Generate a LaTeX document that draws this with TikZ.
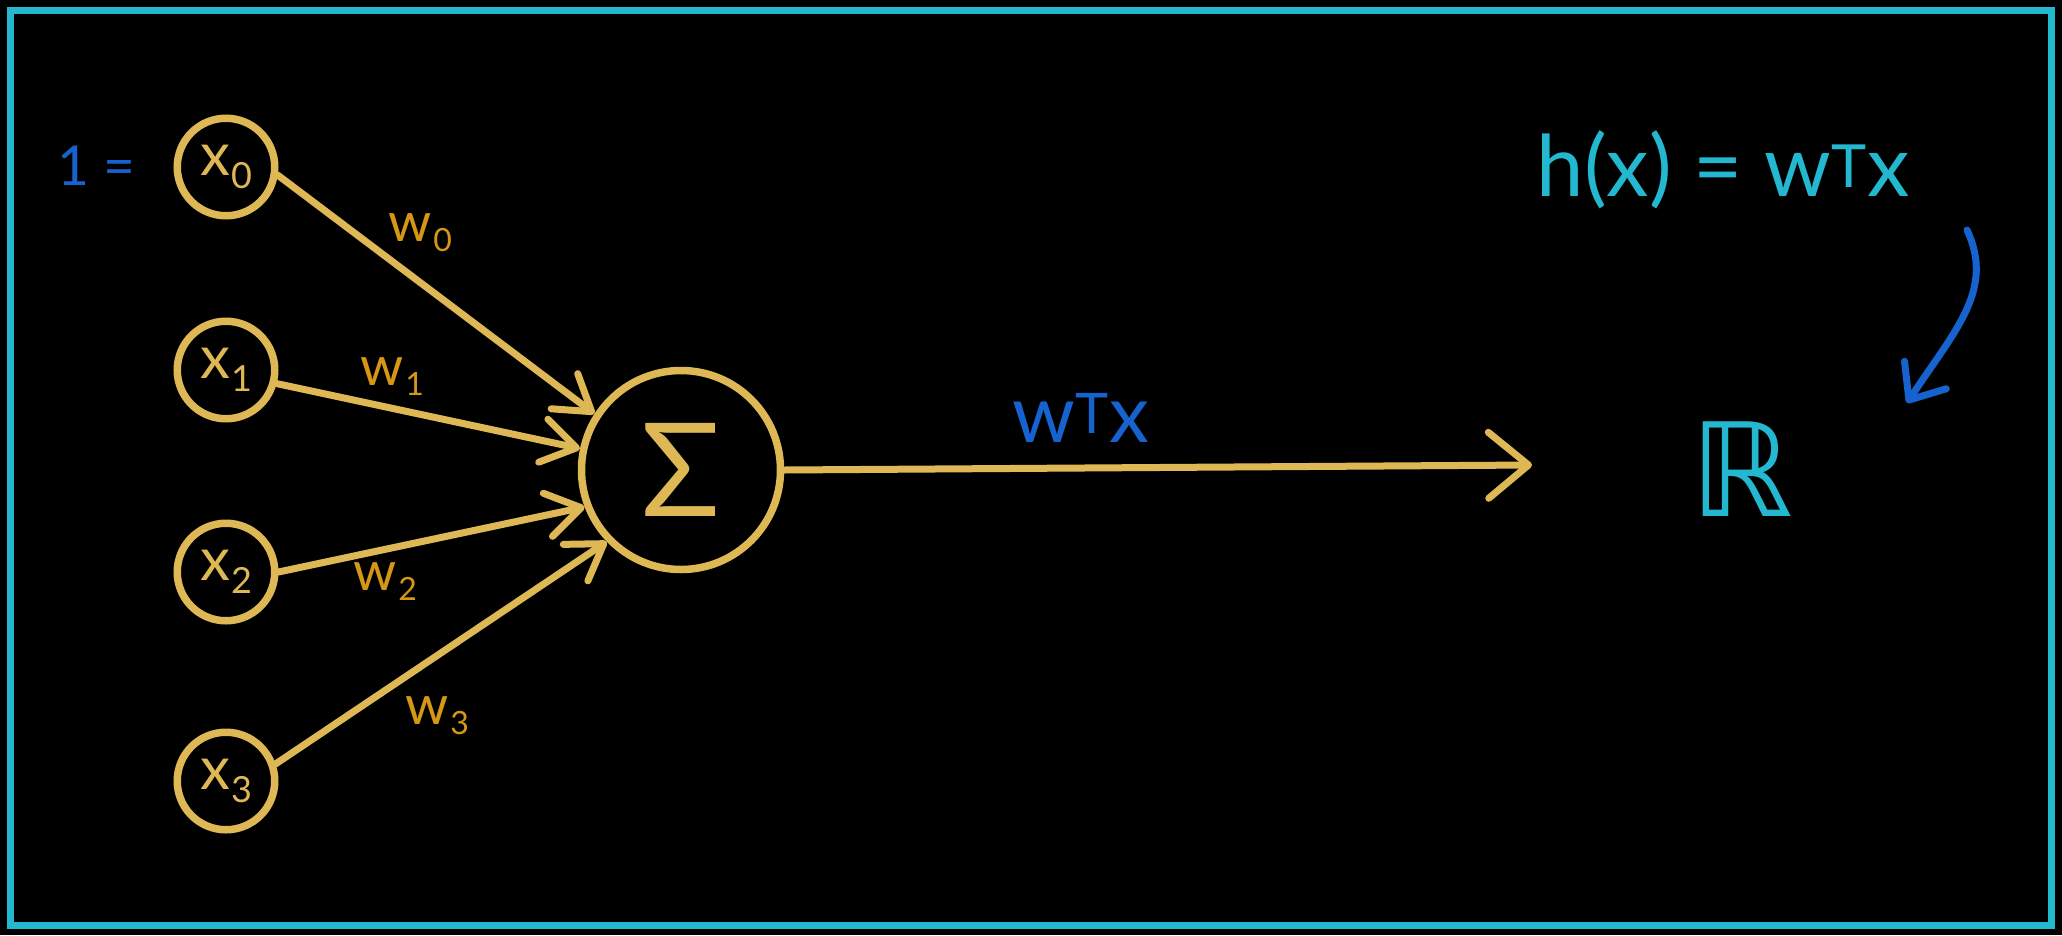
\documentclass[tikz,border=0pt]{standalone}
\usepackage{fontspec}
\setmainfont{Lato}
\newfontfamily\dejavu{DejaVu Sans}
\usetikzlibrary{arrows.meta}
\definecolor{gold}{RGB}{222,184,84}
\definecolor{wlab}{RGB}{214,152,20}
\definecolor{bluec}{RGB}{22,98,206}
\definecolor{cyanc}{RGB}{36,184,208}
\newcommand\xsub[1]{x\kern1pt\raisebox{-13pt}{\fontsize{36}{36}\selectfont #1}}
\newcommand\wsub[1]{w\kern2pt\raisebox{-10pt}{\fontsize{32}{32}\selectfont #1}}
\tikzset{
 neuron/.style={circle, draw=gold, line width=7.5pt, minimum size=97.5pt, inner sep=0pt, text=gold, font=\fontsize{60}{60}\selectfont},
 sumnode/.style={circle, draw=gold, line width=7.5pt, minimum size=199pt, inner sep=0pt, text=gold, font=\fontsize{130}{130}\selectfont},
 conn/.style={draw=gold, line width=7pt, line cap=round, line join=round, -{Straight Barb[length=34pt,width=44pt,line cap=round,line join=round]}},
 wlabel/.style={text=wlab, font=\fontsize{55}{55}\selectfont, inner sep=0pt},
 bluetext/.style={text=bluec, inner sep=0pt},
 cyantext/.style={text=cyanc, inner sep=0pt},
}
\begin{document}
\begin{tikzpicture}[x=1pt,y=-1pt]
\fill[black] (0,0) rectangle (2062,935);
\draw[cyanc, line width=7pt] (10,10) rectangle (2051,925);

\node[neuron] (x0) at (226,167) {\xsub{0}};
\node[neuron] (x1) at (226,370) {\xsub{1}};
\node[neuron] (x2) at (226,572) {\xsub{2}};
\node[neuron] (x3) at (226,781) {\xsub{3}};
\node[sumnode] (s) at (681,470) {Σ};

\draw[conn] (x0.-9) -- (s.147);
\draw[conn] (x1.-15) -- (s.168);
\draw[conn] (x2.0) -- (s.201);
\draw[conn] (x3.19) -- (s.224);

\node[wlabel] (w0) at (420,233) {\wsub{0}};
\node[wlabel] (w1) at (392,377) {\wsub{1}};
\node[wlabel] (w2) at (385,582) {\wsub{2}};
\node[wlabel] (w3) at (437,716) {\wsub{3}};

\node[bluetext, font=\fontsize{55}{55}\selectfont] (one) at (96,166) {1 =};

\coordinate (outend) at (1532,465);
\draw[draw=gold, line width=7pt, line cap=round, -{Straight Barb[length=40pt,width=66pt,line cap=round,line join=round]}] (s.east) -- (outend);
\node[bluetext, font=\fontsize{80}{80}\selectfont] (wtx) at (1081,418) {w\textsuperscript{T}x};

\node[cyantext, font=\fontsize{85}{85}\selectfont] (hx) at (1723,170) {h(x) = w\textsuperscript{T}x};
\node[cyantext, font=\dejavu\fontsize{130}{130}\selectfont] (R) at (1742,469) {ℝ};

\coordinate (cstart) at (1967,230);
\coordinate (cend) at (1907,403);
\draw[bluec, line width=7pt, line cap=round, -{Straight Barb[length=30pt,width=50pt,line cap=round,line join=round]}] (cstart) .. controls (1995,290) and (1955,330) .. (cend);
\end{tikzpicture}
\end{document}
